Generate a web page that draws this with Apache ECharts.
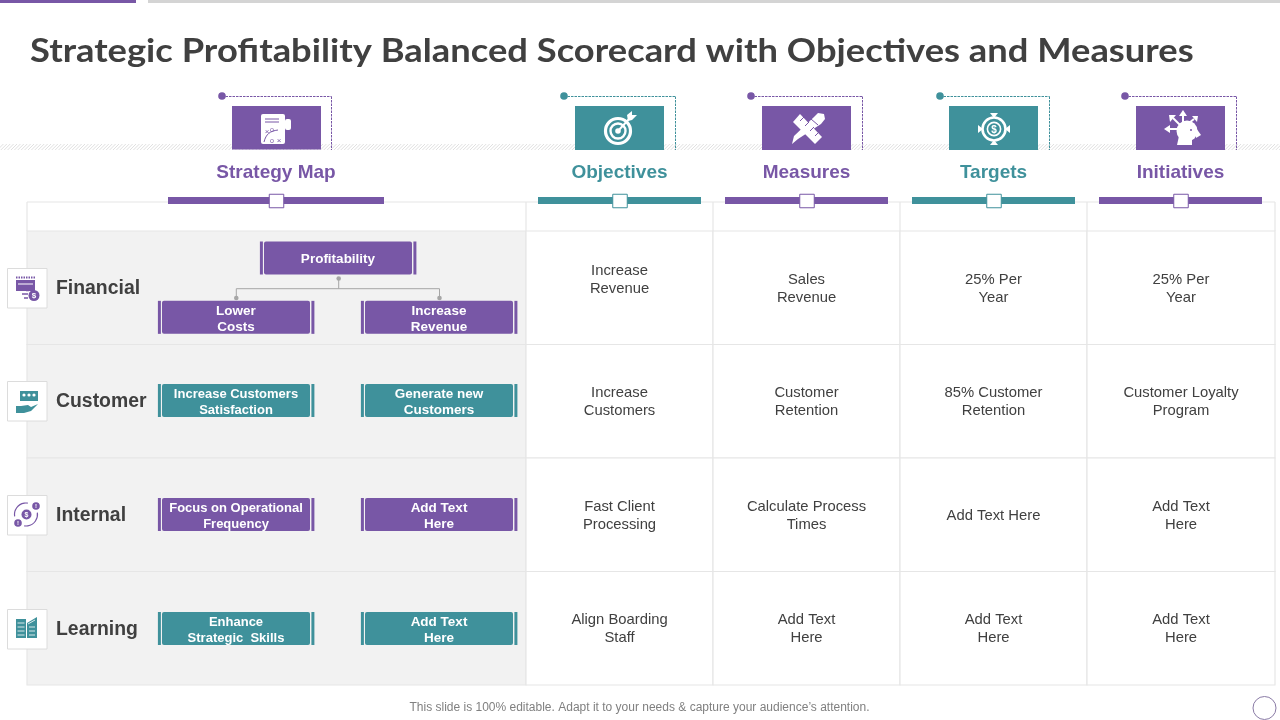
<!DOCTYPE html>
<html><head><meta charset="utf-8">
<style>html,body{margin:0;padding:0;background:#fff}#c{width:1280px;height:720px}</style>
<script src="https://cdn.jsdelivr.net/npm/echarts@6/dist/echarts.min.js"></script>
</head><body><div id="c"></div>
<script>
const titleText = 'Strategic Profitability Balanced Scorecard with Objectives and Measures';
const footerText = 'This slide is 100% editable. Adapt it to your needs & capture your audience\u2019s attention.';
const columns = ['Strategy Map','Objectives','Measures','Targets','Initiatives'];
const rows = ['Financial','Customer','Internal','Learning'];
const objectives = ['Increase\nRevenue','Increase\nCustomers','Fast Client\nProcessing','Align Boarding\nStaff'];
const measures = ['Sales\nRevenue','Customer\nRetention','Calculate Process\nTimes','Add Text\nHere'];
const targets = ['25% Per\nYear','85% Customer\nRetention','Add Text Here','Add Text\nHere'];
const initiatives = ['25% Per\nYear','Customer Loyalty\nProgram','Add Text\nHere','Add Text\nHere'];
const mapLeft = ['Lower\nCosts','Increase Customers\nSatisfaction','Focus on Operational\nFrequency','Enhance\nStrategic  Skills'];
const mapRight = ['Increase\nRevenue','Generate new\nCustomers','Add Text\nHere','Add Text\nHere'];
const mapTop = 'Profitability';

const PURPLE='#7857a6', TEAL='#3f919b', DARK='#404040', LINE='#e6e6e6', BAND='#f2f2f2';
const SANS='"Liberation Sans",Arial,sans-serif';
const colEdges=[0,499,686,873,1060,1248];
const rowColor=[PURPLE,TEAL,PURPLE,TEAL];
const cellCols=[null,objectives,measures,targets,initiatives];

const cellData=[];
rows.forEach((r,ri)=>columns.forEach((c,ci)=>cellData.push([ci,ri])));
const boxData=[];
rows.forEach((r,ri)=>{boxData.push([0,ri]);boxData.push([1,ri]);});

function mapBox(cx,cy,text,color){
  const w=148,h=33,x=cx-74,y=cy-h/2;
  const longest=Math.max(...text.split('\n').map(s=>s.length));
  return {type:'group',children:[
    {type:'rect',shape:{x:x-4.1,y,width:3,height:h},style:{fill:color}},
    {type:'rect',shape:{x:x+w+1.4,y,width:3,height:h},style:{fill:color}},
    {type:'rect',shape:{x,y,width:w,height:h,r:2},style:{fill:color}},
    {type:'text',style:{x:cx,y:cy+1.5,text,align:'center',verticalAlign:'middle',fontFamily:SANS,fontWeight:'bold',fontSize:longest>16?13:13.5,lineHeight:16,fill:'#fff',shadowColor:'rgba(0,0,0,.35)',shadowBlur:1,shadowOffsetX:1,shadowOffsetY:1}}
  ]};
}

// graphic helpers
const Z=10;
const R=(x,y,w,h,fill,extra)=>Object.assign({type:'rect',z:Z,shape:{x,y,width:w,height:h},style:{fill}},extra||{});
const C=(cx,cy,r,fill,stroke,lw)=>({type:'circle',z:Z,shape:{cx,cy,r},style:{fill:fill||'none',stroke:stroke||'none',lineWidth:lw||1}});
const L=(x1,y1,x2,y2,stroke,lw,dash)=>({type:'line',z:Z,shape:{x1,y1,x2,y2},style:{stroke,lineWidth:lw||1,lineDash:dash||null}});
const P=(points,fill)=>({type:'polygon',z:Z,shape:{points},style:{fill}});
const T=(x,y,text,size,fill,weight,align,extra)=>Object.assign({type:'text',z:Z,style:{x,y,text,fontFamily:SANS,fontSize:size,fill,fontWeight:weight||'normal',align:align||'center',verticalAlign:'middle'}},extra||{});
const A=(cx,cy,r,s,e,stroke,lw)=>({type:'arc',z:Z,shape:{cx,cy,r,startAngle:s,endAngle:e},style:{stroke,lineWidth:lw||1,fill:'none'}});

const g=[];
// top bars
g.push(R(0,0,136,3,PURPLE),R(148,0,1132,3,'#d4d4d4'));
// hatch band
for(let x=-6;x<1280;x+=3.4) g.push(L(x,150,x+6,144,'#e0e0e0',1));
// title
g.push({type:'text',z:Z,x:30,y:51,scaleX:1.101,style:{x:0,y:0,text:titleText,fontFamily:'Lato,"Open Sans",sans-serif',fontWeight:'bold',fontSize:33,fill:DARK,align:'left',verticalAlign:'middle'}});
// header row lines
g.push(L(27,202,1275,202,LINE,1.2));
colEdges.forEach(e=>g.push(L(27+e,202,27+e,231,LINE,1.2)));
// column headers
const heads=[
 {cx:276.5,box:[232,106,89,43.5],dot:[222,96],dashX:331.5,bar:[168,216],c:PURPLE},
 {cx:620,box:[575,106,89,44],dot:[564,96],dashX:675.5,bar:[538,163],c:TEAL},
 {cx:807,box:[762,106,89,44],dot:[751,96],dashX:862.5,bar:[725,163],c:PURPLE},
 {cx:994,box:[949,106,89,44],dot:[940,96],dashX:1049.5,bar:[912,163],c:TEAL},
 {cx:1181,box:[1136,106,89,44],dot:[1125,96],dashX:1236.5,bar:[1099,163],c:PURPLE}
];
heads.forEach((h,i)=>{
  g.push(L(h.dot[0],h.dot[1]+0.5,h.dashX,h.dot[1]+0.5,h.c,1,[2.5,1]));
  g.push(L(h.dashX,h.dot[1]+0.5,h.dashX,150,h.c,1,[2.5,1]));
  g.push(C(h.dot[0],h.dot[1],3.8,h.c));
  g.push(R(h.box[0],h.box[1],h.box[2],h.box[3],h.c));
  g.push(T(h.cx-0.5,173,columns[i],19,h.c,'bold'));
  g.push(R(h.bar[0],197,h.bar[1],7,h.c));
  g.push(R(h.cx-7.25,194.25,14.5,13.5,'#fff',{style:{fill:'#fff',stroke:h.c,lineWidth:1}}));
});
// Strategy map icon
const W='#fff';
g.push(R(261,114,25,30,W,{shape:{x:261,y:114,width:24,height:30,r:2}}),R(285,119,6,11,W,{shape:{x:285,y:119,width:6,height:11,r:2}}),
 L(265,119,279,119,PURPLE,1),L(265,122,279,122,PURPLE,1),
 T(267,132,'×',8,PURPLE),T(272,130,'o',7,PURPLE),T(272,141,'o',7,PURPLE),T(279,141,'×',8,PURPLE),
 {type:'bezierCurve',z:Z,shape:{x1:264,y1:142,x2:278,y2:130,cpx1:266,cpy1:134,cpx2:270,cpy2:131},style:{stroke:PURPLE,lineWidth:1,fill:'none'}});
// Target icon
g.push(C(618,131,12.5,'none',W,3.2),C(618,131,7.5,'none',W,2.4),C(618,131,2.8,W),
 L(618,131,630,118,W,2),P([[627,115],[632,111],[632,115],[637,115],[632,120],[628,121]],W));
// Ruler and pencil icon
g.push(P([[793,122],[800,114],[822,137],[815,144]],W),
 P([[814,117],[818,113],[824,114],[825,119],[821,124],[798,139],[792,144],[794,136]],W),
 L(800,121,804,117,PURPLE,1),L(805,126,809,122,PURPLE,1),L(810,131,814,127,PURPLE,1),L(815,136,819,132,PURPLE,1),L(811,119,818,125,PURPLE,1));
// Dollar target icon
g.push(C(994,129,11.5,'none',W,2.6),C(994,129,6.6,'none',W,1.6),T(994,130,'$',10,W,'bold'),
 P([[990,113],[998,113],[994,118]],W),P([[990,145],[998,145],[994,140]],W),P([[978,125],[978,133],[983,129]],W),P([[1010,125],[1010,133],[1005,129]],W));
// Head icon
g.push(C(1187,131,10.5,W),P([[1179,136],[1192,138],[1192,145],[1177,145]],W),P([[1196,128],[1201,135],[1196,138]],W),C(1191,130,1,PURPLE),
 L(1169,129,1178,129,W,2),P([[1164,129],[1170,125],[1170,133]],W),
 L(1173,118,1180,125,W,2),P([[1169,115],[1176,115],[1170,122]],W),
 L(1183,115,1183,122,W,2),P([[1183,110],[1179,116],[1187,116]],W),
 L(1194,119,1189,123,W,2),P([[1198,116],[1192,116],[1197,122]],W));
// row labels and icon boxes
const iconBoxY=[268,381,495,609];
rows.forEach((r,i)=>{
  g.push(R(7.5,iconBoxY[i]+0.5,39.5,39.5,'#fff',{style:{fill:'#fff',stroke:'#dcdcdc',lineWidth:1}}));
  g.push(T(56,iconBoxY[i]+20.5,r,19.4,DARK,'bold','left'));
});
// Financial icon
g.push(R(16,280,19,11,PURPLE),L(16,277.5,35,277.5,PURPLE,2,[1.5,1]),L(18,284,33,284,'#fff',1),
 C(34,295.5,5.5,PURPLE),T(34,296,'$',8,'#fff','bold'),L(26,290.5,29,290.5,PURPLE,1.5),L(22,294,28,294,PURPLE,1.5),L(24,298,28,298,PURPLE,1.5));
// Customer icon
g.push(R(20,391,18,10,TEAL),C(24,395,1.6,'#fff'),C(29,395,1.6,'#fff'),C(34,395,1.6,'#fff'),
 R(16,406,5,7,TEAL),P([[21,406],[28,405],[31,407],[38,404],[31,411],[24,413],[21,413]],TEAL));
// Internal icon
g.push(A(26,514.5,11.5,Math.PI*0.95,Math.PI*1.55,PURPLE,1.2),A(26,514.5,11.5,-Math.PI*0.05,Math.PI*0.55,PURPLE,1.2),
 C(26.5,514.5,5,PURPLE),T(26.5,515,'$',7,'#fff','bold'),C(36,506,3.8,PURPLE),T(36,506,'!',6,'#fff','bold'),C(18,523,3.8,PURPLE),T(18,523,'!',6,'#fff','bold'));
// Learning icon
g.push(R(16,619,10,19,TEAL),R(27,623,10,15,TEAL),P([[27,623],[37,617],[37,623]],TEAL));
[623,627,631,635].forEach(y=>g.push(L(17.5,y,24.5,y,'#fff',0.8)));
[627,631,635].forEach(y=>g.push(L(29,y,35,y,'#fff',0.8)));
g.push(L(28,624,35,620,'#fff',0.8));
// Map connector
const GRAY='#a6a6a6';
g.push(L(338.7,278.5,338.7,288.7,GRAY,1),L(236.3,288.7,439.5,288.7,GRAY,1),L(236.3,288.7,236.3,298,GRAY,1),L(439.5,288.7,439.5,298,GRAY,1),
 C(338.7,278.5,2.3,GRAY),C(236.3,298,2.3,GRAY),C(439.5,298,2.3,GRAY));
// footer
g.push(T(639.5,708,footerText,12,'#808080','normal'));
g.push(C(1264.5,708,11.5,'#fff','#8a7ba6',1));

const option={
  animation:false,
  backgroundColor:'#fff',
  grid:{left:27,top:231,width:1248,height:454},
  xAxis:{type:'value',min:0,max:1248,show:false},
  yAxis:{type:'category',inverse:true,data:rows,show:false},
  graphic:{elements:g},
  series:[
   {type:'custom',coordinateSystem:'cartesian2d',silent:true,encode:{x:0,y:1},data:cellData,z:1,
    renderItem(params,api){
      const ci=api.value(0),ri=api.value(1);
      const cy=api.coord([0,ri])[1],h=api.size([0,1])[1];
      const x0=api.coord([colEdges[ci],ri])[0],x1=api.coord([colEdges[ci+1],ri])[0];
      const ch=[{type:'rect',shape:{x:x0,y:cy-h/2,width:x1-x0,height:h},style:{fill:ci===0?BAND:'#fff',stroke:LINE,lineWidth:1.2}}];
      const shift=(ci===1&&ri===0)?-8:1;
      if(ci>0) ch.push({type:'text',style:{x:(x0+x1)/2,y:cy+shift,text:cellCols[ci][ri],align:'center',verticalAlign:'middle',fontFamily:SANS,fontSize:14.8,lineHeight:18,fill:DARK}});
      return {type:'group',children:ch};
    }},
   {type:'custom',coordinateSystem:'cartesian2d',silent:true,encode:{x:0,y:1},data:boxData,z:2,
    renderItem(params,api){
      const side=api.value(0),ri=api.value(1);
      const cy=api.coord([0,ri])[1];
      const offs=[29.6,-0.75,-0.25,0.25];
      const cx=side===0?236:439;
      const ch=[mapBox(cx,cy+offs[ri],(side===0?mapLeft:mapRight)[ri],rowColor[ri])];
      if(ri===0&&side===0) ch.push(mapBox(338,258,mapTop,PURPLE));
      return {type:'group',children:ch};
    }}
  ]
};
echarts.init(document.getElementById('c'),null,{renderer:'canvas'}).setOption(option);
</script></body></html>
